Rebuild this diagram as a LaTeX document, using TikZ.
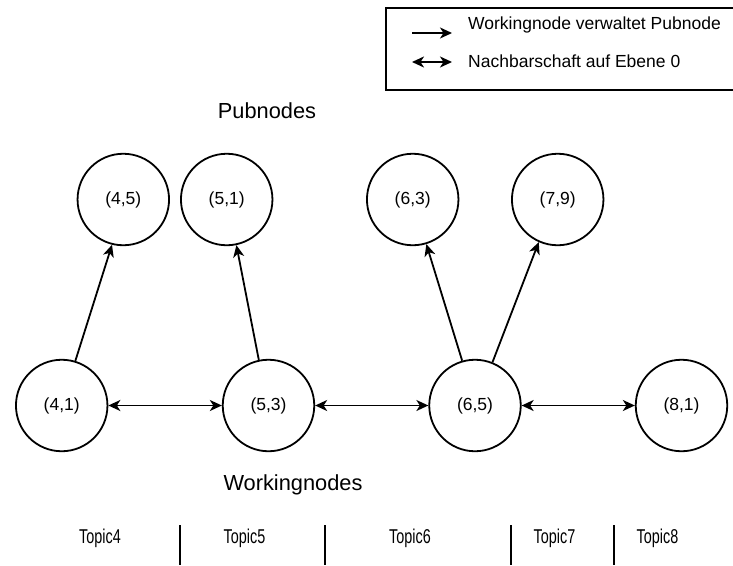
\documentclass[tikz,border=0pt]{standalone}
\usepackage{fontspec}
\setmainfont{Liberation Sans}
\newfontfamily\narrowfont[FakeStretch=0.72]{Liberation Sans}
\usetikzlibrary{arrows.meta}

\begin{document}
\begin{tikzpicture}[x=1pt, y=-1pt,
  >={Stealth[length=12pt, width=11pt, inset=3.5pt]},
  peer/.style={circle, draw, line width=1.8pt, minimum size=91.5pt, inner sep=0pt,
    font=\fontsize{17.5}{21}\selectfont},
  link/.style={line width=1.8pt},
  heading/.style={anchor=base, inner sep=0pt, font=\fontsize{21.8}{26}\selectfont},
  legendtext/.style={anchor=base west, inner sep=0pt, font=\fontsize{17.5}{21}\selectfont},
  topiclabel/.style={anchor=base, inner sep=0pt, font=\narrowfont\fontsize{20}{24}\selectfont},
  divider/.style={line width=1.8pt}
]
\useasboundingbox (0,0) rectangle (733,565);

% legend
\draw[line width=1.8pt] (733,8) -- (386,8) -- (386,90) -- (733,90);
\coordinate (la) at (412,33);
\coordinate (lb) at (452,33);
\coordinate (lc) at (412,62);
\coordinate (ld) at (452,62);
\draw[link, ->] (la) -- (lb);
\draw[link, <->] (lc) -- (ld);
\node[legendtext] (leg1) at (468,29.3) {Workingnode verwaltet Pubnode};
\node[legendtext] (leg2) at (468,67.7) {Nachbarschaft auf Ebene 0};

% headings
\node[heading] (pubtitle) at (267,118.3) {Pubnodes};
\node[heading] (worktitle) at (293,490) {Workingnodes};

% pubnodes
\node[peer] (p45) at (123.3,199.5) {(4,5)};
\node[peer] (p51) at (226.7,199.5) {(5,1)};
\node[peer] (p63) at (412.7,199.5) {(6,3)};
\node[peer] (p79) at (557.7,199.5) {(7,9)};

% workingnodes
\node[peer] (w41) at (61.7,405.5) {(4,1)};
\node[peer] (w53) at (268.5,405.5) {(5,3)};
\node[peer] (w65) at (475,405.5) {(6,5)};
\node[peer] (w81) at (681.5,405.5) {(8,1)};

% management links
\draw[link, ->] (w41.73.6) -- (p45.256.8);
\draw[link, ->] (w53.102) -- (p51.282.7);
\draw[link, ->] (w65.106.5) -- (p63.287.7);
\draw[link, ->] (w65.68.9) -- (p79.246.9);

% neighbourhood on level 0
\draw[link, <->] (w41.east) -- (w53.west);
\draw[link, <->] (w53.east) -- (w65.west);
\draw[link, <->] (w65.east) -- (w81.west);

% topic ranges
\node[topiclabel] (t4) at (100,543) {Topic4};
\node[topiclabel] (t5) at (244.5,543) {Topic5};
\node[topiclabel] (t6) at (410,543) {Topic6};
\node[topiclabel] (t7) at (554.5,543) {Topic7};
\node[topiclabel] (t8) at (657.5,543) {Topic8};
\draw[divider] (180,525) -- (180,565);
\draw[divider] (325,525) -- (325,565);
\draw[divider] (511,525) -- (511,565);
\draw[divider] (614,525) -- (614,565);
\end{tikzpicture}
\end{document}
